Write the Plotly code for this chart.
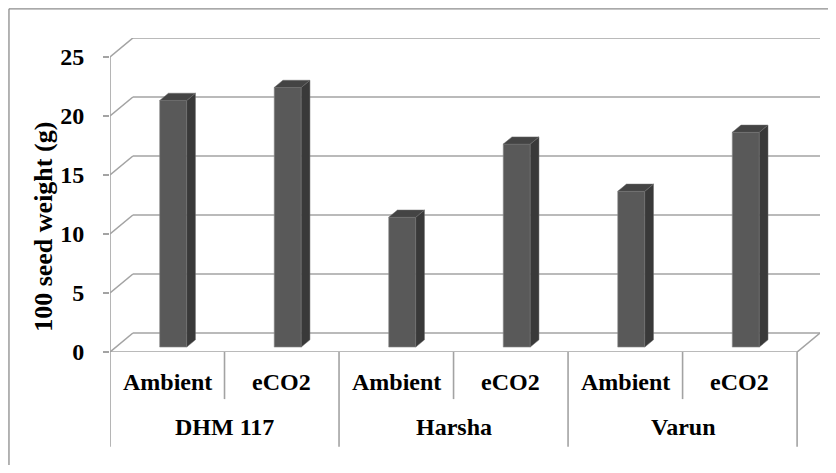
import plotly.graph_objects as go

# ---- data ----
categories = ["Ambient", "eCO2", "Ambient", "eCO2", "Ambient", "eCO2"]
groups = ["DHM 117", "Harsha", "Varun"]
values = [20.9, 22.0, 11.0, 17.2, 13.2, 18.2]
y_ticks = [0, 5, 10, 15, 20, 25]
y_title = "100 seed weight (g)"

# ---- pseudo-3D geometry (in axis units) ----
DX, DY = 0.2, 1.61      # depth offset of the back wall
D0, BD = 0.26, 0.38     # bar front depth and bar depth (fractions)
W = 0.236               # bar width (category units)
n = len(categories)
x_min, x_max = -0.5, n - 0.5
y_top = max(y_ticks)

GRID = "#a3a3a3"
FONT = "Liberation Serif"

fig = go.Figure()
shapes = []


def seg(x0, y0, x1, y1, xref="x", yref="y", color=GRID, width=1.6):
    shapes.append(dict(type="line", xref=xref, yref=yref, x0=x0, y0=y0, x1=x1, y1=y1,
                       layer="below", line=dict(color=color, width=width)))


# grid on back wall + left wall diagonals
for v in y_ticks:
    seg(x_min, v, x_min + DX, v + DY)
    seg(x_min + DX, v + DY, x_max + DX, v + DY)
# floor front edge and right diagonal, front value axis
seg(x_min, 0, x_max, 0)
seg(x_max, 0, x_max + DX, DY)
seg(x_min, 0, x_min, y_top)

# bars: front faces
xs = list(range(n))
fig.add_trace(go.Bar(x=[x + D0 * DX for x in xs], y=values, base=[D0 * DY] * n, width=W,
                     marker=dict(color="#595959", line=dict(color="#8a8a8a", width=0.6)),
                     showlegend=False))

# side and top faces
for x, v in zip(xs, values):
    l = x - W / 2 + D0 * DX
    r = x + W / 2 + D0 * DX
    b = D0 * DY
    t = v + D0 * DY
    fig.add_trace(go.Scatter(
        x=[r, r, r + BD * DX, r + BD * DX, r],
        y=[b, t, t + BD * DY, b + BD * DY, b],
        mode="lines", fill="toself", fillcolor="#393939",
        line=dict(color="#6a6a6a", width=0.5), hoverinfo="skip", showlegend=False))
    fig.add_trace(go.Scatter(
        x=[l, r, r + BD * DX, l + BD * DX, l],
        y=[t, t, t + BD * DY, t + BD * DY, t],
        mode="lines", fill="toself", fillcolor="#444444",
        line=dict(color="#6a6a6a", width=0.5), hoverinfo="skip", showlegend=False))

# category axis frame below the floor
for i in range(n + 1):
    xb = i - 0.5
    y_end = -0.302 if i % 2 == 0 else -0.150
    seg(xb, 0, xb, y_end, yref="paper")
# outer border (top and left visible)
seg(-0.1423, 1.093, 1.05, 1.093, xref="paper", yref="paper", color="#8c8c8c", width=1.3)
seg(-0.1423, 1.093, -0.1423, -0.5, xref="paper", yref="paper", color="#8c8c8c", width=1.3)

annotations = []
for i, c in enumerate(categories):
    annotations.append(dict(x=i, xref="x", y=-0.0955, yref="paper", text=c, showarrow=False,
                            xanchor="center", yanchor="middle",
                            font=dict(family=FONT, size=24, color="black", weight="bold")))
for g, gname in enumerate(groups):
    annotations.append(dict(x=2 * g + 0.5, xref="x", y=-0.239, yref="paper", text=gname, showarrow=False,
                            xanchor="center", yanchor="middle",
                            font=dict(family=FONT, size=24, color="black", weight="bold")))
annotations.append(dict(x=-0.0705, xref="paper", y=0.40, yref="paper", text=y_title, textangle=-90,
                        xanchor="right", yanchor="middle",
                        showarrow=False, font=dict(family=FONT, size=26, color="black", weight="bold")))

fig.update_layout(
    width=820, height=457,
    margin=dict(l=102, r=8, t=30, b=113),
    paper_bgcolor="white", plot_bgcolor="white",
    barmode="overlay",
    shapes=shapes, annotations=annotations,
    xaxis=dict(range=[x_min, x_max + DX], visible=False, fixedrange=True),
    yaxis=dict(range=[0, (352 - 38) / 11.8], tickvals=y_ticks, showgrid=False, zeroline=False,
               showline=False, ticks="outside", ticklen=6, tickcolor=GRID, tickwidth=1.6,
               ticklabelstandoff=14,
               tickfont=dict(family=FONT, size=24, color="black", weight="bold")),
)

fig.write_html("out.html")
